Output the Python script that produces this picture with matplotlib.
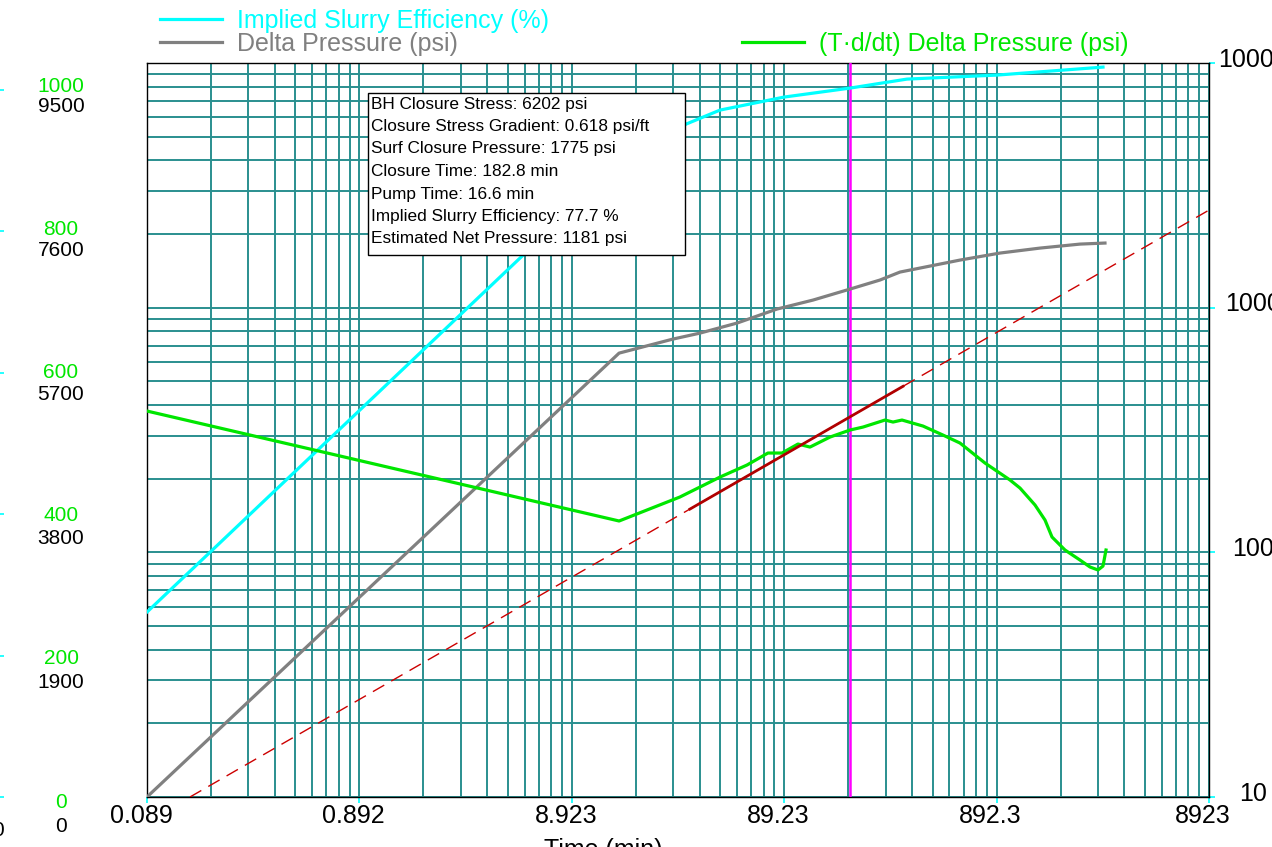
import matplotlib
matplotlib.use("Agg")
import matplotlib.pyplot as plt
from matplotlib.patches import Rectangle
from matplotlib.ticker import FixedLocator, NullFormatter
from matplotlib.transforms import ScaledTranslation

plt.rcParams['font.family'] = ['Liberation Sans', 'DejaVu Sans']

# time axis starts at the first sample (min)
T0 = 0.08923

# Implied slurry efficiency (drawn against the log axis)
eff_t = [0.0892, 14.9, 30.8, 44.5, 89.0, 182.1, 337.8, 896, 2828]
eff_v = [57.0, 3863, 5627, 6420, 7255, 7896, 8595, 8925, 9622]

# Delta pressure (psi)
dp_t = [0.0892, 14.9, 26.7, 35.8, 53.5, 82.5, 121.9, 182.1, 252, 313, 433,
        600, 926, 1429, 2204, 2889]
dp_v = [10, 652, 744, 787, 865, 987, 1074, 1191, 1297, 1398, 1479,
        1565, 1672, 1752, 1819, 1837]

# (T*d/dt) delta pressure (psi)
der_t = [0.0892, 14.9, 28.8, 44.5, 59.6, 74.8, 87.1, 103.6, 118.0, 146.6,
         182.1, 209.7, 266.2, 290.3, 320.0, 401.8, 499.0, 600, 787, 1032,
         1150, 1353, 1508, 1627, 1873, 2204, 2456, 2679, 2828, 2921]
der_v = [378, 134.3, 168.3, 203.1, 227.4, 254.6, 254.6, 277.1, 269.3, 295.9,
         316.1, 325.1, 347.3, 340.8, 347.3, 328.2, 301.5, 279.7, 231.7, 197.5,
         183.1, 156.1, 135.5, 115.5, 102.2, 93.0, 87.1, 84.7, 87.9, 102.2]

# half-slope fit line and the fitted section
fit_t = [0.1422, 8923]
fit_v = [10, 2505]
seg_t = [32.1, 323.5]
seg_v = [150.2, 477]
closure_time = 182.8

x_labels = ['0.089', '0.892', '8.923', '89.23', '892.3', '8923']
y_right = [10, 100, 1000, 10000]
green_ticks = [0, 200, 400, 600, 800, 1000]
black_ticks = [0, 1900, 3800, 5700, 7600, 9500]
cyan_ticks = [0, 20, 40, 60, 80, 100]

info = ["BH Closure Stress: 6202 psi",
        "Closure Stress Gradient: 0.618 psi/ft",
        "Surf Closure Pressure: 1775 psi",
        "Closure Time: 182.8 min",
        "Pump Time: 16.6 min",
        "Implied Slurry Efficiency: 77.7 %",
        "Estimated Net Pressure: 1181 psi"]

CYAN = '#00ffff'
GRAY = '#808080'
GREEN = '#00e600'
GRID = '#2a8f8f'

W, H = 1272, 847
fig = plt.figure(figsize=(W / 100, H / 100), dpi=100)
L, R, T, B = 147, 1209, 63, 797
rect = [L / W, 1 - B / H, (R - L) / W, (B - T) / H]
ax = fig.add_axes(rect)

ax.set_xscale('log')
ax.set_yscale('log')
ax.set_xlim(T0, T0 * 1e5)
ax.set_ylim(10, 10000)

xmaj = [T0 * 10 ** k for k in range(6)]
xmin = [T0 * m * 10 ** k for k in range(5) for m in range(2, 10)]
ax.xaxis.set_major_locator(FixedLocator(xmaj))
ax.xaxis.set_minor_locator(FixedLocator(xmin))
ax.set_xticklabels(x_labels)
ax.xaxis.set_minor_formatter(NullFormatter())
ymin = [m * 10 ** k for k in range(1, 4) for m in range(2, 10)]
ax.yaxis.set_major_locator(FixedLocator(y_right))
ax.yaxis.set_minor_locator(FixedLocator(ymin))
ax.set_yticklabels([str(v) for v in y_right])
ax.yaxis.set_minor_formatter(NullFormatter())
ax.yaxis.tick_right()

ax.grid(True, which='both', color=GRID, lw=1.4)
ax.set_axisbelow(True)
ax.tick_params(which='minor', length=0)
ax.tick_params(axis='x', which='major', color=CYAN, length=4.3, width=1.2,
               labelsize=18, pad=1)
ax.tick_params(axis='y', which='major', color=CYAN, length=4.3, width=1.2,
               labelsize=18, pad=27.4)
for s in ax.spines.values():
    s.set_color('black')
    s.set_linewidth(1)

for lbl in ax.get_xticklabels():
    lbl.set_transform(lbl.get_transform() + ScaledTranslation(-0.06, 0, fig.dpi_scale_trans))
for lbl in ax.get_yticklabels():
    lbl.set_horizontalalignment('center')
    lbl.set_transform(lbl.get_transform() + ScaledTranslation(0, 0.06, fig.dpi_scale_trans))

# data
h_eff, = ax.plot(eff_t, eff_v, color=CYAN, lw=2.3, zorder=4)
h_dp, = ax.plot(dp_t, dp_v, color=GRAY, lw=2.3, zorder=4)
h_der, = ax.plot(der_t, der_v, color=GREEN, lw=2.3, zorder=4)
ax.plot(fit_t, fit_v, color='#cc0000', lw=1.0, dashes=(9.4, 5.8), zorder=3)
ax.plot(seg_t, seg_v, color='#b00000', lw=2.0, zorder=5)
ax.axvline(closure_time, color='#ff00ff', lw=1.8, zorder=3)

ax.set_xlabel('Time (min)', fontsize=18, va='top')
ax.xaxis.set_label_coords((603 - L) / (R - L), (B - 838) / (B - T))

# info box
bx0, bx1, by0, by1 = 368, 685, 93, 255
ax.add_patch(Rectangle(((bx0 - L) / (R - L), (B - by1) / (B - T)),
                       (bx1 - bx0) / (R - L), (by1 - by0) / (B - T),
                       transform=ax.transAxes, facecolor='white',
                       edgecolor='black', lw=1, zorder=10))
for i, line in enumerate(info):
    ax.text((371 - L) / (R - L), (B - (104 + 22.5 * i)) / (B - T), line,
            transform=ax.transAxes, fontsize=12.4, va='center', ha='left',
            zorder=11)

# left-hand linear scales (labels only)
def side_axis(lim, ticks, color, pad, shift, size=15):
    a = fig.add_axes(rect, frameon=False)
    a.set_ylim(0, lim)
    a.set_yticks(ticks)
    a.xaxis.set_visible(False)
    a.tick_params(axis='y', length=0, pad=pad, labelsize=size, labelcolor=color)
    for lbl in a.get_yticklabels():
        lbl.set_horizontalalignment('center')
        lbl.set_transform(lbl.get_transform() + ScaledTranslation(0, -shift / 100, fig.dpi_scale_trans))
    return a

side_axis(1025.8, green_ticks, GREEN, 61.9, 3)
side_axis(9691, black_ticks, 'black', 61.9, 27)

axc = fig.add_axes(rect, frameon=False)
axc.set_ylim(0, 103.8)
axc.set_yticks(cyan_ticks)
axc.set_yticklabels(['0'] + [''] * (len(cyan_ticks) - 1))
axc.xaxis.set_visible(False)
axc.spines['left'].set_position(('outward', 103))
axc.tick_params(axis='y', color=CYAN, length=2.9, width=1.2, pad=-3,
                labelsize=15, labelcolor='black')
for lbl in axc.get_yticklabels():
    lbl.set_transform(lbl.get_transform() + ScaledTranslation(0, -0.31, fig.dpi_scale_trans))

# legends
leg_kw = dict(loc='center left', frameon=False, fontsize=18, handlelength=2.48,
              handletextpad=0.6, borderpad=0, borderaxespad=0)
fig.legend([h_eff], ['Implied Slurry Efficiency (%)'],
           bbox_to_anchor=(160 / W, 1 - 21 / H), labelcolor=CYAN, **leg_kw)
fig.legend([h_dp], ['Delta Pressure (psi)'],
           bbox_to_anchor=(160 / W, 1 - 44 / H), labelcolor=GRAY, **leg_kw)
fig.legend([h_der], ['(T\u00b7d/dt) Delta Pressure (psi)'],
           bbox_to_anchor=(742 / W, 1 - 44 / H), labelcolor=GREEN, **leg_kw)

fig.savefig('out.png', dpi=100)
